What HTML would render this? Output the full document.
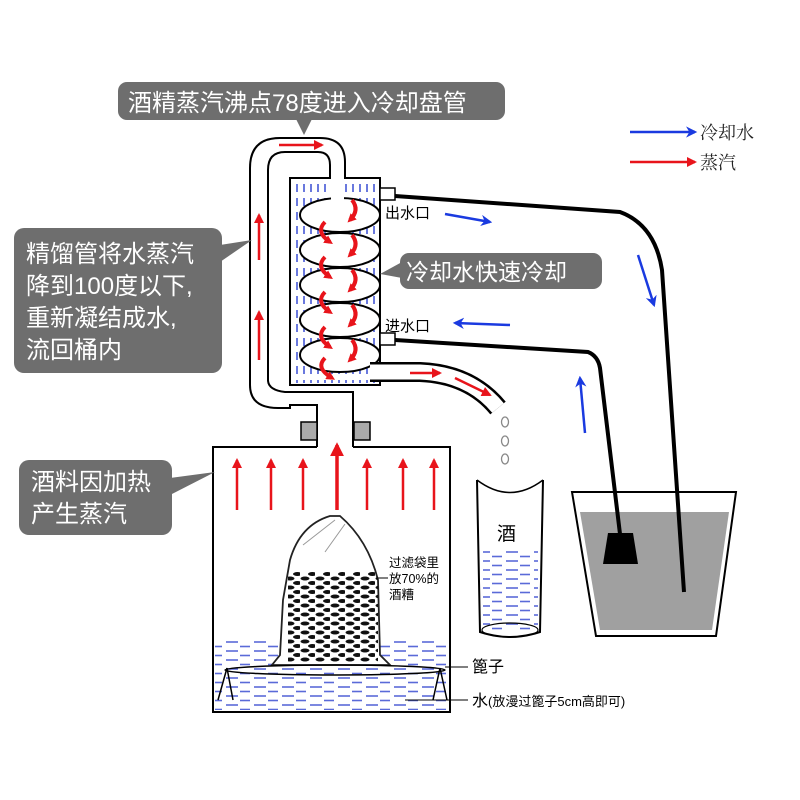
<!DOCTYPE html>
<html><head><meta charset="utf-8"><style>
html,body{margin:0;padding:0;background:#fff;}
svg{display:block;font-family:"Liberation Sans","Noto Sans CJK SC",sans-serif;}
</style></head><body>
<svg width="800" height="800" viewBox="0 0 800 800" xmlns="http://www.w3.org/2000/svg">
<defs>
<pattern id="vd" width="7" height="14" patternUnits="userSpaceOnUse"><line x1="3" y1="2" x2="3" y2="10" stroke="#2a3fd0" stroke-width="1.4"/></pattern>
<pattern id="hd" width="28" height="9" patternUnits="userSpaceOnUse"><line x1="2" y1="3" x2="14" y2="3" stroke="#5a6ad8" stroke-width="1.6"/><line x1="16" y1="7.5" x2="26" y2="7.5" stroke="#5a6ad8" stroke-width="1.6"/></pattern>
<pattern id="bd" width="15" height="9" patternUnits="userSpaceOnUse"><ellipse cx="5" cy="2.5" rx="4.5" ry="2" fill="#111"/><ellipse cx="12.5" cy="7" rx="4.5" ry="2" fill="#111"/></pattern>
<marker id="ra" viewBox="0 0 10 10" refX="8" refY="5" markerWidth="4" markerHeight="4" orient="auto"><path d="M0,0L10,5L0,10z" fill="#e8141b"/></marker>
<marker id="ra2" viewBox="0 0 10 10" refX="6" refY="5" markerWidth="2.2" markerHeight="2.2" orient="auto"><path d="M0,0L10,5L0,10z" fill="#e8141b"/></marker>
<marker id="ba" viewBox="0 0 10 10" refX="8" refY="5" markerWidth="4.5" markerHeight="4.5" orient="auto"><path d="M0,0L10,5L0,10L3,5z" fill="#1a3ae0"/></marker>
</defs>

<!-- bucket -->
<path d="M572,492 L736,492 L716,636 L596,636 Z" fill="#fff" stroke="#000" stroke-width="2"/>
<path d="M580,512 L729,512 L712,630 L600,630 Z" fill="#a0a0a0"/>

<!-- water pipes -->
<path d="M395,196 L620,212 Q655,225 662,270 L684,592" fill="none" stroke="#000" stroke-width="4"/>
<path d="M395,340 L588,352 Q598,356 600,368 L620,534" fill="none" stroke="#000" stroke-width="4"/>
<path d="M608,533 L633,533 L638,564 L603,564 Z" fill="#000"/>

<!-- column tube -->
<path d="M345,180 L345,162 Q345,138 320,138 L280,138 Q250,138 250,168 L250,385 Q250,408 278,408 L290,408 L290,405 L317,405 L317,447" fill="none" stroke="#000" stroke-width="2"/>
<path d="M330,180 L330,165 Q330,152 318,152 L285,152 Q268,152 268,170 L268,380 Q268,390 285,392 L353,392 L353,447" fill="none" stroke="#000" stroke-width="2"/>
<rect x="301" y="422" width="16" height="18" fill="#aaa" stroke="#000" stroke-width="1.5"/>
<rect x="354" y="422" width="16" height="18" fill="#aaa" stroke="#000" stroke-width="1.5"/>

<!-- condenser -->
<rect x="290" y="178" width="90" height="207" fill="#fff" stroke="#000" stroke-width="2"/>
<rect x="292" y="180" width="86" height="203" fill="url(#vd)"/>
<rect x="380" y="188" width="15" height="12" fill="#fff" stroke="#000" stroke-width="1.5"/>
<rect x="380" y="333" width="15" height="12" fill="#fff" stroke="#000" stroke-width="1.5"/>
<g fill="#fff" stroke="#000" stroke-width="2">
<ellipse cx="340" cy="355" rx="40" ry="17"/>
<ellipse cx="340" cy="320" rx="40" ry="17"/>
<ellipse cx="340" cy="285" rx="40" ry="17"/>
<ellipse cx="340" cy="250" rx="40" ry="17"/>
<ellipse cx="340" cy="215" rx="40" ry="17"/>
</g>
<rect x="331" y="170" width="13" height="30" fill="#fff"/>
<g stroke="#e8141b" stroke-width="4" fill="none" marker-end="url(#ra2)">
<path d="M352,200 Q360,210 350,220"/><path d="M325,222 Q315,232 330,242"/>
<path d="M352,235 Q360,245 350,255"/><path d="M325,257 Q315,267 330,277"/>
<path d="M352,270 Q360,280 350,290"/><path d="M325,292 Q315,302 330,312"/>
<path d="M352,305 Q360,315 350,325"/><path d="M325,327 Q315,337 330,347"/>
<path d="M352,340 Q360,350 350,360"/><path d="M325,358 Q315,368 332,378"/>
</g>

<!-- output pipe -->
<path d="M370,372 L420,372 Q470,374 498,408" fill="none" stroke="#000" stroke-width="20"/>
<path d="M370,372 L420,372 Q470,374 498,408" fill="none" stroke="#fff" stroke-width="15"/>
<line x1="410" y1="373" x2="440" y2="373" stroke="#e8141b" stroke-width="2.5" marker-end="url(#ra)"/>
<line x1="455" y1="378" x2="490" y2="395" stroke="#e8141b" stroke-width="2.5" marker-end="url(#ra)"/>
<g fill="#fff" stroke="#888" stroke-width="1.3">
<ellipse cx="505" cy="422" rx="3.5" ry="5"/><ellipse cx="505" cy="441" rx="3.5" ry="5"/><ellipse cx="505" cy="459" rx="3.5" ry="5"/>
</g>

<g stroke="#e8141b" stroke-width="2.5" marker-end="url(#ra)">
<line x1="279" y1="145" x2="322" y2="145"/>
<line x1="259" y1="260" x2="259" y2="215"/>
<line x1="259" y1="360" x2="259" y2="312"/>
</g>

<!-- boiler -->
<path d="M317,447 L213,447 L213,712 L450,712 L450,447 L353,447" fill="none" stroke="#000" stroke-width="2"/>
<rect x="215" y="640" width="233" height="70" fill="url(#hd)"/>
<g stroke="#e8141b" stroke-width="2.5" marker-end="url(#ra)">
<line x1="237" y1="510" x2="237" y2="460"/><line x1="271" y1="510" x2="271" y2="460"/>
<line x1="303" y1="510" x2="303" y2="460"/><line x1="337" y1="510" x2="337" y2="445" stroke-width="3.5"/>
<line x1="367" y1="510" x2="367" y2="460"/><line x1="403" y1="510" x2="403" y2="460"/>
<line x1="434" y1="510" x2="434" y2="460"/>
</g>
<path d="M330,516 Q300,525 290,560 L283,600 L280,655 L272,665 L390,665 L380,655 L378,580 Q368,540 340,516 Z" fill="#fff" stroke="#222" stroke-width="1.8"/>
<rect x="288" y="572" width="90" height="90" fill="url(#bd)"/>
<path d="M303,545 L335,520 M325,552 L345,524" stroke="#999" stroke-width="1"/>
<ellipse cx="335" cy="670" rx="110" ry="5" fill="none" stroke="#000" stroke-width="1.5"/>
<path d="M227,668 L218,700 M227,668 L233,700 M440,668 L433,700 M440,668 L447,700" stroke="#000" stroke-width="1.5"/>
<line x1="378" y1="578" x2="388" y2="578" stroke="#000" stroke-width="1"/>
<line x1="445" y1="667" x2="468" y2="667" stroke="#000" stroke-width="1"/>
<line x1="405" y1="700" x2="468" y2="700" stroke="#000" stroke-width="1"/>
<text x="389" y="567" font-size="12.5">过滤袋里</text>
<text x="389" y="583" font-size="12.5">放70%的</text>
<text x="389" y="599" font-size="12.5">酒糟</text>
<text x="472" y="672" font-size="16">篦子</text>
<text x="472" y="706" font-size="16">水<tspan font-size="13">(放漫过篦子5cm高即可)</tspan></text>

<!-- glass -->
<path d="M477,480 L480,632 Q510,642 540,632 L543,480" fill="#fff" stroke="#000" stroke-width="2"/>
<path d="M477,480 Q510,505 543,480" fill="none" stroke="#000" stroke-width="1.5"/>
<rect x="483" y="550" width="55" height="80" fill="url(#hd)"/>
<ellipse cx="510" cy="630" rx="28" ry="7" fill="none" stroke="#000" stroke-width="1.2"/>
<text x="497" y="540" font-size="19">酒</text>

<text x="385" y="218" font-size="15">出水口</text>
<text x="385" y="331" font-size="15">进水口</text>
<g stroke="#1a3ae0" stroke-width="2.5" marker-end="url(#ba)">
<line x1="445" y1="214" x2="490" y2="222"/>
<line x1="510" y1="325" x2="455" y2="323"/>
<line x1="638" y1="255" x2="654" y2="305"/>
<line x1="585" y1="433" x2="580" y2="378"/>
<line x1="630" y1="132" x2="695" y2="132"/>
</g>
<line x1="630" y1="162" x2="695" y2="162" stroke="#e8141b" stroke-width="2.5" marker-end="url(#ra)"/>
<text x="700" y="139" font-size="18" font-family="Liberation Serif,'Noto Serif CJK SC',serif" fill="#222">冷却水</text>
<text x="700" y="169" font-size="18" font-family="Liberation Serif,'Noto Serif CJK SC',serif" fill="#222">蒸汽</text>

<g fill="#6e6e6e">
<rect x="118" y="82" width="387" height="38" rx="9"/>
<path d="M296,119 L312,119 L304,135 Z"/>
<rect x="14" y="228" width="208" height="145" rx="10"/>
<path d="M220,245 L252,240 L220,262 Z"/>
<rect x="400" y="253" width="202" height="36" rx="9"/>
<path d="M402,262 L380,274 L402,278 Z"/>
<rect x="19" y="460" width="153" height="75" rx="10"/>
<path d="M170,478 L215,472 L170,495 Z"/>
</g>
<g fill="#fff">
<text x="128" y="111" font-size="24">酒精蒸汽沸点78度进入冷却盘管</text>
<text x="26" y="262" font-size="24">精馏管将水蒸汽</text>
<text x="26" y="294" font-size="24">降到100度以下,</text>
<text x="26" y="326" font-size="24">重新凝结成水,</text>
<text x="26" y="358" font-size="24">流回桶内</text>
<text x="406" y="280" font-size="23">冷却水快速冷却</text>
<text x="31" y="490" font-size="24">酒料因加热</text>
<text x="31" y="522" font-size="24">产生蒸汽</text>
</g>
</svg>
</body></html>
